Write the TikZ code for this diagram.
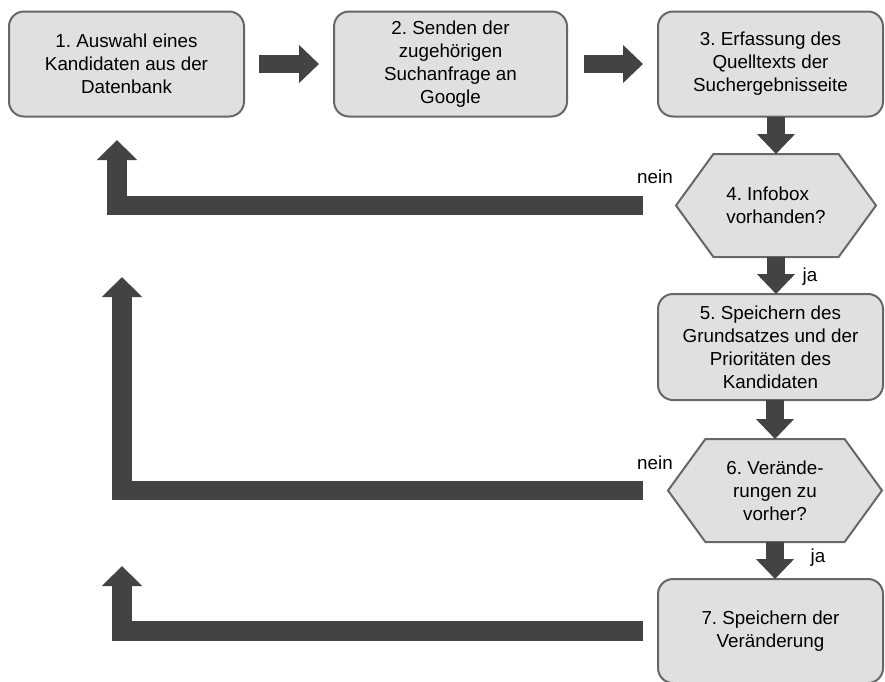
\documentclass[tikz,border=0pt]{standalone}
\usepackage{fontspec}
\setmainfont{Liberation Sans}
\usetikzlibrary{arrows.meta,shapes.symbols}

\definecolor{boxfill}{HTML}{E0E0E0}
\definecolor{boxline}{HTML}{676767}
\definecolor{arrowfill}{HTML}{434343}
\frenchspacing

\tikzset{
    stepbox/.style={draw=boxline, fill=boxfill, line width=2pt, rounded corners=15pt,
        align=center, inner sep=0pt, outer sep=0pt, font=\fontsize{18.8}{23}\selectfont},
    query/.style={draw=boxline, fill=boxfill, line width=2pt, shape=signal,
        signal to=west and east, signal pointer angle=108, inner sep=0pt, outer sep=0pt,
        font=\fontsize{18.8}{23}\selectfont},
    fwdarrow/.style={draw=arrowfill, line width=18pt, -{Triangle[length=20pt,width=37pt]}},
    backarrow/.style={draw=arrowfill, line width=19.5pt, line join=miter,
        -{Triangle[length=20pt,width=39pt]}},
    answer/.style={inner sep=0pt, font=\fontsize{18.8}{23}\selectfont}
}

\begin{document}
\begin{tikzpicture}[x=1pt,y=-1pt]
    \useasboundingbox (0,0) rectangle (885,681);

    % top row
    \node[stepbox, minimum width=235pt, minimum height=105pt] (b1) at (126.5,64)
        {1. Auswahl eines\\Kandidaten aus der\\Datenbank};
    \node[stepbox, minimum width=233pt, minimum height=105pt] (b2) at (450.5,64)
        {2. Senden der\\zugehörigen\\Suchanfrage an\\Google};
    \node[stepbox, minimum width=225pt, minimum height=105pt] (b3) at (770.5,64)
        {3. Erfassung des\\Quelltexts der\\Suchergebnisseite};

    % right column
    \node[query, align=left, minimum width=200pt, minimum height=103pt] (h4) at (776,205.5)
        {4. Infobox\\vorhanden?};
    \node[stepbox, minimum width=225pt, minimum height=106pt] (b5) at (770.5,347)
        {5. Speichern des\\Grundsatzes und der\\Prioritäten des\\Kandidaten};
    \node[query, align=center, minimum width=214pt, minimum height=103pt] (h6) at (775,490.5)
        {6. Verände-\\rungen zu\\vorher?};
    \node[stepbox, minimum width=225pt, minimum height=104pt] (b7) at (770.5,631)
        {7. Speichern der\\Veränderung};

    % free ends of the way back
    \coordinate (up1) at (117,140);
    \coordinate (up2) at (122,277);
    \coordinate (up3) at (122,566);

    % forward
    \draw[fwdarrow, shorten <=15pt, shorten >=15pt] (b1.east) -- (b2.west);
    \draw[fwdarrow, shorten <=17pt, shorten >=15pt] (b2.east) -- (b3.west);
    \draw[fwdarrow] (h4.north |- b3.south) -- (h4.north);
    \draw[fwdarrow] (h4.south) -- (h4.south |- b5.north);
    \draw[fwdarrow] (h6.north |- b5.south) -- (h6.north);
    \draw[fwdarrow] (h6.south) -- (h6.south |- b7.north);

    % back
    \draw[backarrow] ([xshift=-33pt]h4.west) -| (up1);
    \draw[backarrow] ([xshift=-25pt]h6.west) -| (up2);
    \draw[backarrow] ([xshift=-15pt]b7.west) -| (up3);

    \node[answer] (no1) at (655,177) {nein};
    \node[answer] (yes1) at (810,277) {ja};
    \node[answer] (no2) at (655,463) {nein};
    \node[answer] (yes2) at (818,558) {ja};
\end{tikzpicture}
\end{document}
